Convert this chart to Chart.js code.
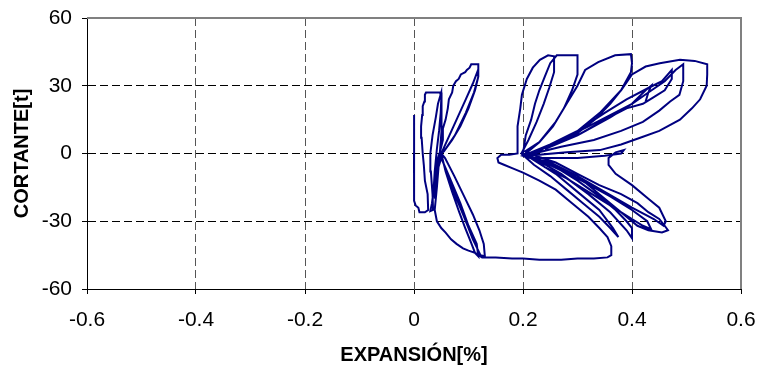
<!DOCTYPE html>
<html lang="es">
<head>
    <meta charset="UTF-8">
    <title>Cortante vs Expansión</title>
    <script src="https://cdn.jsdelivr.net/npm/chart.js"></script>
    <style>
        body {
            margin: 0;
            padding: 0;
            background: #fff;
        }

        .chart-box {
            width: 758px;
            height: 367px;
        }
    </style>
</head>
<body>
    <div class="chart-box">
        <canvas id="loopChart"></canvas>
    </div>

    <script>
        // axis ticks
        var xTicks = [-0.6, -0.4, -0.2, 0, 0.2, 0.4, 0.6];
        var yTicks = [-60, -30, 0, 30, 60];

        // [expansion %, cortante t], in test order
        var firstCycles = [
            [0, 0], [0, 8], [0, 17], [0.001, 10], [0, 0], [0, -12], [0, -21], [0.003, -23], [0.008, -24],
            [0.01, -26], [0.02, -26], [0.026, -25], [0.025, -18], [0.02, -12], [0.018, -5], [0.016, 0],
            [0.014, 7], [0.013, 12], [0.015, 17], [0.016, 21], [0.019, 23], [0.02, 26], [0.022, 27],
            [0.035, 27], [0.048, 27], [0.05, 24], [0.049, 18], [0.046, 10], [0.042, 2], [0.038, -8],
            [0.036, -16], [0.033, -22], [0.03, -25.5], [0.035, -25], [0.034, -18], [0.031, -8], [0.03, 0],
            [0.034, 8], [0.04, 16], [0.044, 22], [0.05, 27], [0.051, 20], [0.05, 10], [0.048, 2],
            [0.045, -6], [0.04, -14], [0.038, -20]
        ];

        var secondCycles = [
            [0.04, -10], [0.044, -2], [0.048, 1], [0.053, 6], [0.053, 11], [0.058, 15], [0.062, 20],
            [0.064, 24], [0.07, 27], [0.072, 30], [0.077, 32], [0.082, 33], [0.086, 35], [0.094, 36],
            [0.097, 37], [0.102, 38], [0.105, 39.5], [0.118, 39.5], [0.118, 34], [0.112, 28], [0.1, 20],
            [0.085, 12], [0.07, 6], [0.055, 1], [0.048, 0], [0.055, -5], [0.065, -12], [0.078, -20],
            [0.09, -27], [0.1, -33], [0.108, -38], [0.116, -42], [0.122, -45], [0.13, -45.5], [0.128, -40],
            [0.12, -34], [0.108, -27], [0.092, -19], [0.074, -10], [0.057, -2], [0.05, 0], [0.065, 8],
            [0.08, 16], [0.095, 24], [0.108, 31], [0.116, 36], [0.118, 34], [0.11, 27], [0.095, 18],
            [0.075, 8], [0.055, 1], [0.05, 0], [0.058, -8], [0.07, -17], [0.083, -26], [0.094, -33],
            [0.104, -39], [0.112, -44], [0.118, -45.5], [0.115, -40], [0.1, -32], [0.085, -22],
            [0.066, -11], [0.05, -2], [0.045, -6], [0.042, -15]
        ];

        var bottomLoop = [
            [0.04, -20], [0.038, -25], [0.042, -30], [0.05, -33], [0.058, -35], [0.068, -38], [0.078, -40],
            [0.09, -42], [0.1, -43], [0.112, -44], [0.125, -46], [0.15, -46], [0.18, -46.5], [0.2, -46.5],
            [0.23, -47], [0.27, -47], [0.3, -46.5], [0.33, -46.5], [0.355, -46], [0.362, -45], [0.362, -41],
            [0.355, -37], [0.34, -33], [0.32, -28], [0.29, -22], [0.26, -16], [0.23, -12], [0.2, -8.5],
            [0.18, -6.5], [0.165, -5], [0.155, -4], [0.153, -2], [0.16, -0.5], [0.175, -0.5], [0.19, 0]
        ];

        var cyclesA = [
            [0.19, 4], [0.19, 12], [0.195, 20], [0.198, 26], [0.207, 33], [0.218, 38], [0.231, 41.5],
            [0.246, 43.5], [0.257, 43], [0.257, 36], [0.248, 29], [0.238, 22], [0.225, 14], [0.21, 6],
            [0.197, 0], [0.22, -5], [0.25, -10], [0.28, -16], [0.31, -22], [0.34, -28], [0.36, -33],
            [0.375, -37], [0.365, -33], [0.34, -25], [0.3, -17], [0.26, -9], [0.22, -3], [0.2, 0]
        ];

        var cyclesB = [
            [0.205, 8], [0.215, 15], [0.222, 22], [0.23, 28], [0.24, 34], [0.25, 40], [0.262, 43.5],
            [0.3, 43.5], [0.3, 35], [0.29, 28], [0.275, 20], [0.255, 12], [0.23, 5], [0.204, 1],
            [0.24, -6], [0.28, -11], [0.32, -17], [0.36, -23], [0.4, -29], [0.42, -32], [0.435, -33.5],
            [0.428, -30], [0.4, -25], [0.36, -19], [0.3, -11], [0.24, -4], [0.2, -1]
        ];

        var cyclesC = [
            [0.23, 5], [0.26, 14], [0.28, 22], [0.3, 30], [0.314, 37], [0.338, 40.5], [0.369, 43.5],
            [0.398, 44], [0.4, 40], [0.398, 36], [0.38, 28], [0.36, 22], [0.332, 15], [0.3, 9],
            [0.26, 4], [0.21, 0], [0.26, -4], [0.3, -9], [0.34, -14], [0.38, -18], [0.41, -22],
            [0.43, -26], [0.45, -29], [0.46, -32], [0.466, -34], [0.455, -35], [0.43, -34], [0.41, -32],
            [0.38, -26], [0.34, -18], [0.3, -10], [0.25, -4], [0.2, -1]
        ];

        var cyclesD = [
            [0.25, 4], [0.3, 10], [0.341, 18], [0.38, 28], [0.4, 35], [0.425, 38.5], [0.451, 40],
            [0.488, 41.5], [0.515, 41], [0.538, 39.5], [0.538, 35], [0.537, 30], [0.525, 24],
            [0.51, 20], [0.488, 15], [0.45, 10], [0.415, 7], [0.38, 4], [0.341, 1.5], [0.28, 0.5],
            [0.21, -1], [0.26, -6], [0.3, -12], [0.34, -19], [0.37, -25], [0.39, -30], [0.4, -33],
            [0.4, -37.5], [0.39, -34], [0.36, -26], [0.32, -18], [0.27, -9], [0.22, -2]
        ];

        var cyclesE = [
            [0.25, -2], [0.3, -2], [0.35, -1], [0.38, 0], [0.385, 1.5], [0.37, 0.5], [0.357, -2],
            [0.357, -5], [0.37, -9], [0.4, -14], [0.43, -20], [0.45, -24], [0.462, -30], [0.458, -32],
            [0.44, -29], [0.4, -24], [0.35, -17], [0.3, -10], [0.24, -4], [0.205, -1], [0.27, 6],
            [0.32, 12], [0.36, 17], [0.4, 22], [0.43, 27], [0.46, 32], [0.48, 37], [0.494, 39.5],
            [0.494, 32], [0.487, 26], [0.47, 23], [0.45, 19], [0.42, 14], [0.38, 10], [0.33, 6],
            [0.27, 3], [0.22, 0]
        ];

        var lastCycle = [
            [0.3, 10], [0.35, 18], [0.39, 24], [0.43, 29], [0.455, 32], [0.473, 37], [0.473, 33],
            [0.46, 28], [0.44, 25], [0.42, 22], [0.39, 20], [0.35, 15], [0.3, 8], [0.24, 2],
            [0.3, 8], [0.36, 16], [0.4, 22], [0.425, 28], [0.435, 30], [0.43, 27], [0.425, 23]
        ];

        var loopPath = [].concat(firstCycles, secondCycles, bottomLoop, cyclesA, cyclesB,
            cyclesC, cyclesD, cyclesE, lastCycle).map(function (p) {
            return { x: p[0], y: p[1] };
        });

        // gray top/right border of the plot area, like the spreadsheet frame
        var frame = {
            id: 'frame',
            afterDraw: function (chart) {
                var a = chart.chartArea, c = chart.ctx;
                c.save();
                c.strokeStyle = '#808080';
                c.lineWidth = 2;
                c.beginPath();
                c.moveTo(a.left, a.top);
                c.lineTo(a.right, a.top);
                c.lineTo(a.right, a.bottom);
                c.stroke();
                c.restore();
            }
        };

        function edgeHidden(color, ticks) {
            return function (ctx) {
                var v = ctx.tick ? ctx.tick.value : null;
                if (v === null) return color;
                if (Math.abs(v - ticks[0]) < 1e-9 || Math.abs(v - ticks[ticks.length - 1]) < 1e-9) {
                    return 'rgba(0,0,0,0)';
                }
                return color;
            };
        }

        var ctx = document.getElementById('loopChart').getContext('2d');
        var loopChart = new Chart(ctx, {
            type: 'scatter',
            data: {
                datasets: [{
                    data: loopPath,
                    showLine: true,
                    borderColor: '#000080',
                    borderWidth: 2,
                    pointRadius: 0,
                    tension: 0,
                    fill: false
                }]
            },
            options: {
                responsive: true,
                maintainAspectRatio: false,
                animation: false,
                layout: {
                    autoPadding: false,
                    padding: { left: 8, right: 17, top: 18, bottom: 0 }
                },
                plugins: {
                    legend: { display: false },
                    tooltip: { enabled: false }
                },
                scales: {
                    x: {
                        type: 'linear',
                        min: xTicks[0],
                        max: xTicks[xTicks.length - 1],
                        afterFit: function (scale) {
                            scale.height = 78;
                            scale.paddingLeft = 0;
                            scale.paddingRight = 0;
                        },
                        afterBuildTicks: function (scale) {
                            scale.ticks = xTicks.map(function (v) { return { value: v }; });
                        },
                        ticks: {
                            color: '#000',
                            padding: 14,
                            maxRotation: 0,
                            font: { family: 'Liberation Sans, Arial', size: 21 },
                            callback: function (v) { return String(+v.toFixed(1)); }
                        },
                        grid: {
                            color: edgeHidden('#555', xTicks),
                            lineWidth: 1,
                            tickColor: '#000',
                            tickLength: 5
                        },
                        border: { color: '#000', width: 1, dash: [8, 4] },
                        title: {
                            display: true,
                            text: 'EXPANSIÓN[%]',
                            color: '#000',
                            font: { family: 'Liberation Sans, Arial', size: 20, weight: 'bold' },
                            padding: { top: 0, bottom: 0 }
                        }
                    },
                    y: {
                        type: 'linear',
                        min: yTicks[0],
                        max: yTicks[yTicks.length - 1],
                        afterFit: function (scale) {
                            scale.width = 79;
                            scale.paddingTop = 0;
                            scale.paddingBottom = 0;
                        },
                        afterBuildTicks: function (scale) {
                            scale.ticks = yTicks.map(function (v) { return { value: v }; });
                        },
                        ticks: {
                            color: '#000',
                            padding: 10,
                            font: { family: 'Liberation Sans, Arial', size: 21 }
                        },
                        grid: {
                            color: edgeHidden('#000', yTicks),
                            lineWidth: 1,
                            tickColor: '#000',
                            tickLength: 5
                        },
                        border: { color: '#000', width: 1, dash: [8, 4] },
                        title: {
                            display: true,
                            text: 'CORTANTE[t]',
                            color: '#000',
                            font: { family: 'Liberation Sans, Arial', size: 20, weight: 'bold' },
                            padding: { top: 2, bottom: 0 }
                        }
                    }
                }
            },
            plugins: [frame]
        });
    </script>
</body>
</html>
